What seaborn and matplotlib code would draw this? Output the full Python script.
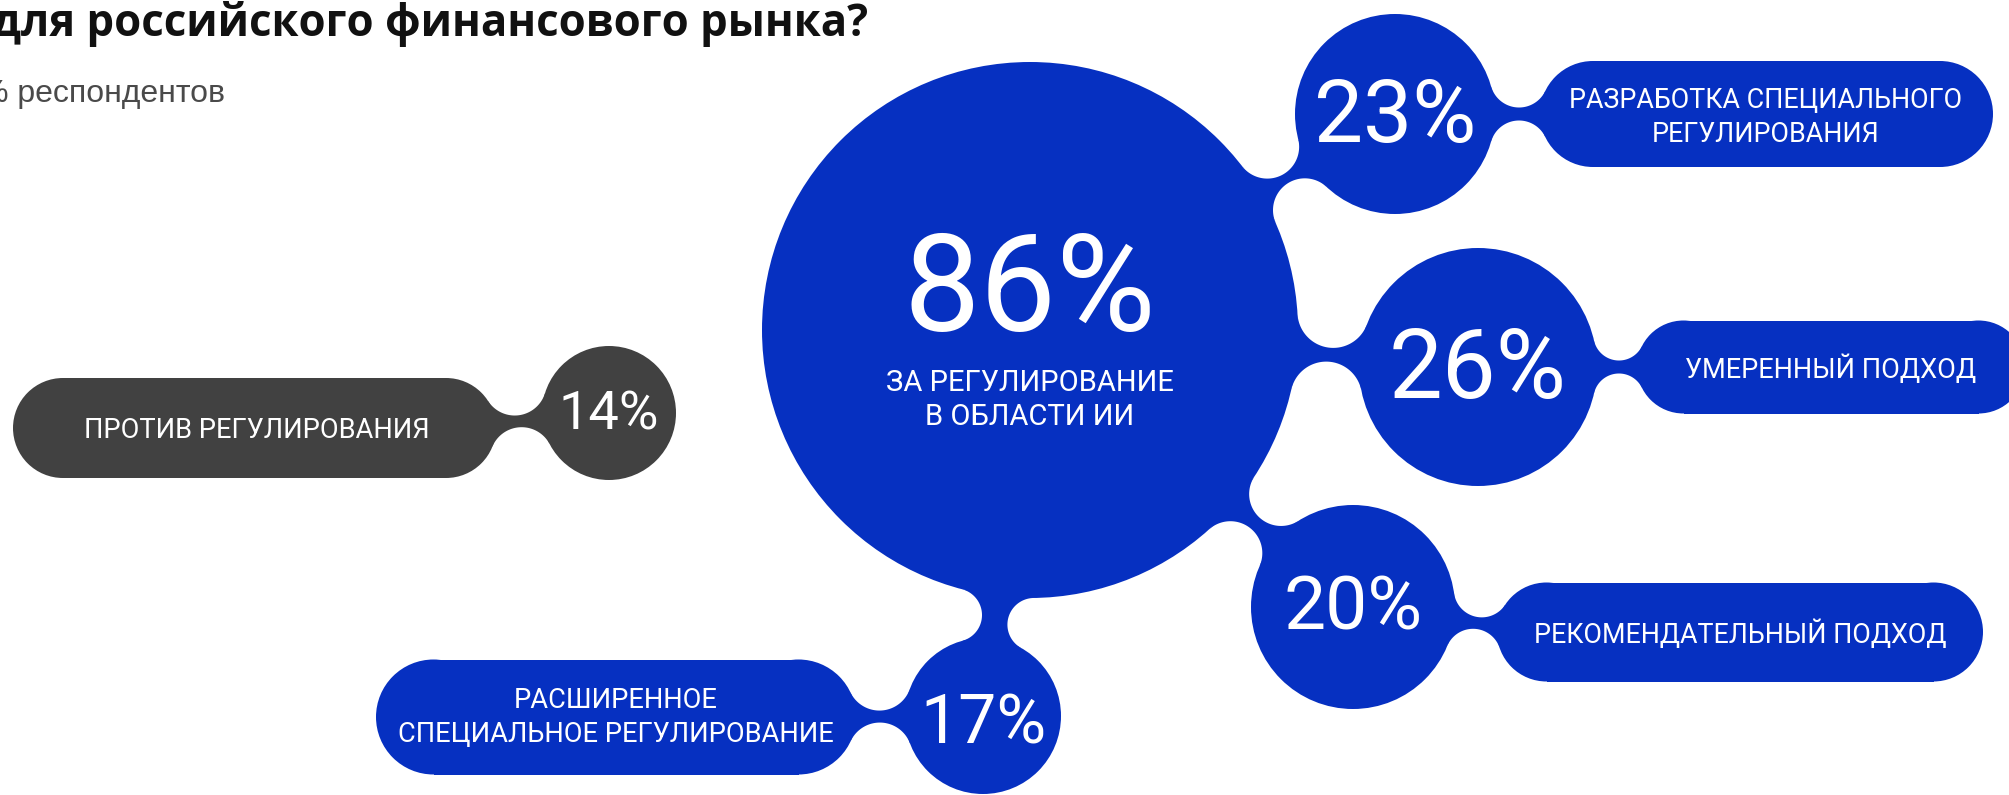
import numpy as np
import matplotlib
matplotlib.use("Agg")
import matplotlib.pyplot as plt
from matplotlib import patches, font_manager
import seaborn as sns

# --- data ---
title = "для российского финансового рынка?"
subtitle = "% респондентов"
shares = [86, 23, 26, 20, 17, 14]
labels = [
    "ЗА РЕГУЛИРОВАНИЕ\nВ ОБЛАСТИ ИИ",
    "РАЗРАБОТКА СПЕЦИАЛЬНОГО\nРЕГУЛИРОВАНИЯ",
    "УМЕРЕННЫЙ ПОДХОД",
    "РЕКОМЕНДАТЕЛЬНЫЙ ПОДХОД",
    "РАСШИРЕННОЕ\nСПЕЦИАЛЬНОЕ РЕГУЛИРОВАНИЕ",
    "ПРОТИВ РЕГУЛИРОВАНИЯ",
]
groups = ["за", "за", "за", "за", "за", "против"]

# --- layout (pixels, figure is 2009 x 795) ---
bub_x = [1030, 1395, 1478, 1353, 983, 609]
bub_y = [330, 114, 367, 607, 716, 413]
bub_r = [268, 100, 119, 102, 78, 67]
num_size = [98, 63, 69, 54, 49, 39]
num_base = [331, 142, 398, 630, 743, 430]
# pill behind each label (None = label sits inside the bubble)
pill_x0 = [None, 1540, 1637, 1497, 376, 13]
pill_x1 = [None, 1993, 2025, 1983, 856, 496]
pill_y = [None, 114, 367, 632, 717, 428]
pill_h = [None, 106, 93, 99, 115, 100]
label_x = [1030, 1766, 1831, 1740, 616, 257]
label_base = [391, 108, 378, 643, 708, 438]
label_size = [21, 19.4, 19.5, 19.4, 19.6, 19.6]
line_step = 34
# links between bubbles: (from, to, neck half width)
links = [(0, 1, 5), (0, 2, 7), (0, 3, 7), (0, 4, 13)]
pill_neck = [None, 6.5, 6.5, 6, 6, 6]

palette = {"за": "#0630c1", "против": "#414141"}


def pick_font(cands, min_weight=0):
    for c in cands:
        for f in font_manager.fontManager.ttflist:
            w = f.weight if isinstance(f.weight, int) else 400
            if f.name == c and w >= min_weight:
                return c
    return "DejaVu Sans"


def neck(c1, r1, c2, r2, half):
    """metaball style bridge between two circles"""
    c1 = np.array(c1, float)
    c2 = np.array(c2, float)
    d = np.linalg.norm(c2 - c1)
    u = (c2 - c1) / d
    n = np.array([-u[1], u[0]])

    def notch(R):
        a = (d ** 2 + (r1 + R) ** 2 - (r2 + R) ** 2) / (2 * d)
        h = np.sqrt(max((r1 + R) ** 2 - a ** 2, 0))
        return a, h

    lo, hi = (d - r1 - r2) / 2 + 1e-6, 400
    for _ in range(60):
        mid = (lo + hi) / 2
        a, h = notch(mid)
        if h - mid < half:
            lo = mid
        else:
            hi = mid
    R = (lo + hi) / 2
    a, h = notch(R)
    sides = []
    for s in (1, -1):
        N = c1 + u * a + n * h * s
        t1 = c1 + (N - c1) * r1 / (r1 + R)
        t2 = c2 + (N - c2) * r2 / (r2 + R)
        a1 = np.arctan2(t1[1] - N[1], t1[0] - N[0])
        a2 = np.arctan2(t2[1] - N[1], t2[0] - N[0])
        da = (a2 - a1 + np.pi) % (2 * np.pi) - np.pi
        ang = a1 + da * np.linspace(0, 1, 60)
        sides.append(N + R * np.column_stack([np.cos(ang), np.sin(ang)]))
    return np.vstack([sides[0], sides[1][::-1]])


sns.set_theme(style="white")
label_font = pick_font(["Roboto", "DejaVu Sans"])
title_font = pick_font(["Montserrat", "Open Sans", "Lato", "Noto Sans"], min_weight=700)
sub_font = pick_font(["Liberation Sans", "DejaVu Sans"])
plt.rcParams["font.family"] = [label_font, "DejaVu Sans"]

fig = plt.figure(figsize=(20.09, 7.95), dpi=100)
ax = fig.add_axes([0, 0, 1, 1])
ax.set_xlim(0, 2009)
ax.set_ylim(795, 0)
ax.axis("off")

# bubbles
for i in range(len(shares)):
    col = palette[groups[i]]
    ax.add_patch(patches.Circle((bub_x[i], bub_y[i]), bub_r[i], color=col, lw=0, zorder=2))

# bubble links
for a, b, w in links:
    poly = neck((bub_x[a], bub_y[a]), bub_r[a], (bub_x[b], bub_y[b]), bub_r[b], w)
    ax.add_patch(patches.Polygon(poly, closed=True, color=palette[groups[b]], lw=0, zorder=1))

# pills + their necks
for i in range(len(shares)):
    if pill_x0[i] is None:
        continue
    col = palette[groups[i]]
    x0, x1, yc, h = pill_x0[i], pill_x1[i], pill_y[i], pill_h[i]
    r = h / 2
    ax.add_patch(patches.Rectangle((x0 + r, yc - r), x1 - x0 - h, h, color=col, lw=0, zorder=2))
    ax.add_patch(patches.Circle((x0 + r, yc), r, color=col, lw=0, zorder=2))
    ax.add_patch(patches.Circle((x1 - r, yc), r, color=col, lw=0, zorder=2))
    # connect to the end closest to the bubble
    end = (x0 + r, yc) if bub_x[i] < x0 else (x1 - r, yc)
    poly = neck((bub_x[i], bub_y[i]), bub_r[i], end, r, pill_neck[i])
    ax.add_patch(patches.Polygon(poly, closed=True, color=col, lw=0, zorder=1))

# numbers and labels
for i, v in enumerate(shares):
    ax.text(bub_x[i], num_base[i], f"{v}%", ha="center", va="baseline",
            color="white", fontsize=num_size[i], family=label_font, zorder=3)
    for k, line in enumerate(labels[i].split("\n")):
        ax.text(label_x[i], label_base[i] + k * line_step, line, ha="center", va="baseline",
                color="white", fontsize=label_size[i], family=label_font, zorder=3)

ax.text(-8, 36, title, ha="left", va="baseline", color="#111111",
        fontsize=31.5, fontweight="bold", family=title_font)
ax.text(-20, 102, subtitle, ha="left", va="baseline", color="#4a4a4a",
        fontsize=23, family=sub_font)

fig.savefig("out.png", dpi=100, facecolor="white")
